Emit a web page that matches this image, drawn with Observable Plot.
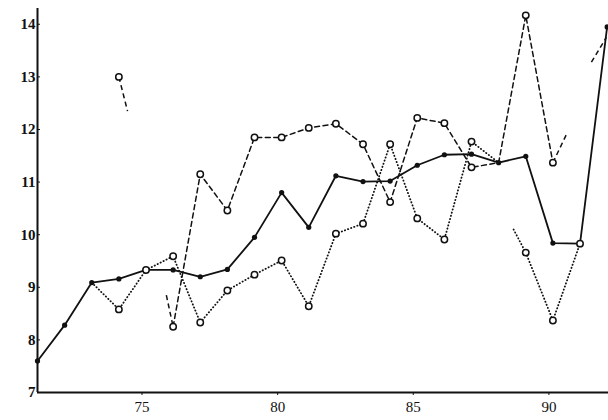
<!DOCTYPE html>
<html>
<head>
<meta charset="utf-8">
<script src="https://cdn.jsdelivr.net/npm/d3@7"></script>
<script src="https://cdn.jsdelivr.net/npm/@observablehq/plot@0.6"></script>
<style>
  html, body { margin: 0; padding: 0; background: #fff; }
  #chart svg { display: block; }
</style>
</head>
<body>
<div id="chart"></div>
<script>
// Years 1871–1892 (shown as 71 … 92)
const years = d3.range(71, 93);

// Solid series (filled dots)
const solid = [7.6, 8.28, 9.09, 9.16, 9.33, 9.33, 9.2, 9.34, 9.95, 10.8, 10.14,
               11.12, 11.01, 11.02, 11.32, 11.52, 11.53, 11.37, 11.49, 9.84, 9.83, 13.95];

// Dashed series (open circles); null = no value for that year
const dashed = [null, null, null, 13.0, null, 8.25, 11.15, 10.46, 11.85, 11.85, 12.03,
                12.11, 11.72, 10.62, 12.22, 12.12, 11.28, 11.37, 14.17, 11.37, null, null];

// Dotted series (open circles)
const dotted = [null, null, 9.09, 8.58, 9.33, 9.59, 8.33, 8.94, 9.24, 9.51, 8.64,
                10.02, 10.21, 11.72, 10.31, 9.91, 11.77, 11.37, 9.66, 8.37, 9.83, null];

// Years where a series' line is interrupted before that year
const dottedBreaks = [89];
// Years where a series joins the solid dot without its own ring
const dashedNoRing = [88];
const dottedNoRing = [73, 88];

// Short broken-off line pieces: [year1, value1, year2, value2]
const dashedStubs = [[74, 13.0, 74.32, 12.35], [75.75, 8.85, 76, 8.25],
                     [90, 11.37, 90.54, 11.95], [91.42, 13.28, 91.97, 13.75]];
const dottedStubs = [[88.55, 10.1, 89, 9.66]];

const xTicks = [75, 80, 85, 90];
const yTicks = [7, 8, 9, 10, 11, 12, 13, 14];

function rows(values, breaks = [], noRing = []) {
  let run = 0;
  return years.map((year, i) => {
    if (breaks.includes(year)) run++;
    if (values[i] == null) { run++; return null; }
    return {year, value: values[i], run, ring: !noRing.includes(year)};
  }).filter(d => d);
}
const stubRows = s => s.map(([x1, y1, x2, y2]) => ({x1, y1, x2, y2}));

const solidRows = rows(solid);
const dashedRows = rows(dashed, [], dashedNoRing);
const dottedRows = rows(dotted, dottedBreaks, dottedNoRing);

const dashStyle = {stroke: "#111", strokeWidth: 1.5, strokeDasharray: "5,3.5"};
const dotStyle = {stroke: "#111", strokeWidth: 1.8, strokeDasharray: "0.3,3", strokeLinecap: "round"};
const ringStyle = {r: 3.2, fill: "#fff", stroke: "#111", strokeWidth: 1.5};

const chart = Plot.plot({
  width: 608,
  height: 420,
  marginLeft: 37,
  marginRight: 0,
  marginTop: 8,
  marginBottom: 28,
  x: {domain: [71, 92.05]},
  y: {domain: [7, 14.3]},
  style: {fontFamily: "'Liberation Serif', 'DejaVu Serif', serif", background: "transparent", color: "#111"},
  marks: [
    Plot.axisY({ticks: yTicks, tickSize: 3, tickPadding: 2, tickFormat: d => d,
                fontSize: 15, fontWeight: "bold", label: null, dx: 3}),
    Plot.axisX({ticks: xTicks, tickSize: 3, tickPadding: 6, tickFormat: d => d,
                fontSize: 15, label: null, dx: -4}),
    Plot.ruleX([71], {y1: 7, y2: 14.3, stroke: "#111", strokeWidth: 2}),
    Plot.ruleY([7], {stroke: "#111", strokeWidth: 2}),

    Plot.line(dottedRows, {x: "year", y: "value", z: "run", ...dotStyle}),
    Plot.link(stubRows(dottedStubs), {x1: "x1", y1: "y1", x2: "x2", y2: "y2", ...dotStyle}),
    Plot.line(dashedRows, {x: "year", y: "value", z: "run", ...dashStyle}),
    Plot.link(stubRows(dashedStubs), {x1: "x1", y1: "y1", x2: "x2", y2: "y2", ...dashStyle}),
    Plot.line(solidRows, {x: "year", y: "value", stroke: "#111", strokeWidth: 1.8}),

    // filled dots first, so a ring sharing the same point stays open
    Plot.dot(solidRows, {x: "year", y: "value", r: 2.6, fill: "#111"}),
    Plot.dot(dottedRows.filter(d => d.ring), {x: "year", y: "value", ...ringStyle}),
    Plot.dot(dashedRows.filter(d => d.ring), {x: "year", y: "value", ...ringStyle})
  ]
});

document.getElementById("chart").append(chart);
</script>
</body>
</html>
